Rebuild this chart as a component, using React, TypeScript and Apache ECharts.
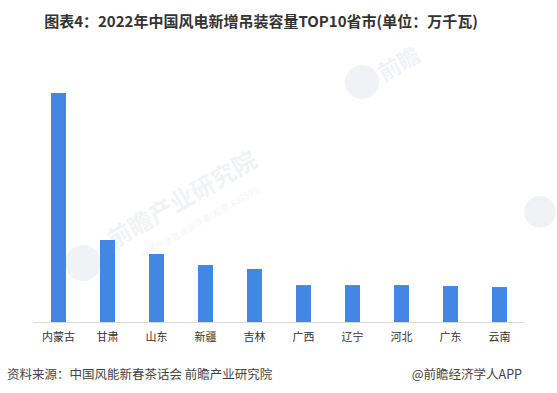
import React, { useEffect, useRef } from "react";
import * as echarts from "echarts";

const categories = ["内蒙古", "甘肃", "山东", "新疆", "吉林", "广西", "辽宁", "河北", "广东", "云南"];
const values = [1166, 418, 346, 290, 270, 188, 188, 188, 183, 178];
const titleText = "图表4：2022年中国风电新增吊装容量TOP10省市(单位：万千瓦)";
const sourceText = "资料来源：中国风能新春茶话会 前瞻产业研究院";
const brandText = "@前瞻经济学人APP";

const FONT = '"Noto Sans CJK SC", "Microsoft YaHei", sans-serif';
const WM = "rgba(190,198,212,0.22)";

export default function App() {
  const ref = useRef<HTMLDivElement>(null);
  useEffect(() => {
    if (!ref.current) return;
    const chart = echarts.init(ref.current, null, { renderer: "svg" });
    chart.setOption({
      animation: false,
      backgroundColor: "#ffffff",
      grid: { left: 34, right: 33, top: 47, bottom: 71, containLabel: false },
      xAxis: {
        type: "category",
        data: categories,
        axisLine: { lineStyle: { color: "#d9d9d9", width: 1 } },
        axisTick: { show: false },
        axisLabel: { color: "#333333", fontSize: 11, fontFamily: FONT, margin: 8 },
      },
      yAxis: {
        type: "value",
        min: 0,
        max: 1400,
        show: false,
        splitLine: { show: false },
      },
      series: [
        {
          type: "bar",
          data: values,
          barWidth: 15,
          itemStyle: { color: "#4287e4" },
          z: 3,
        },
      ],
      graphic: [
        // watermarks
        { type: "circle", shape: { cx: 83, cy: 263, r: 18 }, style: { fill: WM }, z: 0, silent: true },
        {
          type: "text", x: 181, y: 198, rotation: Math.PI / 6, z: 0, silent: true,
          style: { text: "前瞻产业研究院", fontSize: 24, fontWeight: "bold", fill: WM, fontFamily: FONT, align: "center", verticalAlign: "middle" },
        },
        {
          type: "text", x: 200, y: 222, rotation: Math.PI / 6, z: 0, silent: true,
          style: { text: "中国产业咨询领导者(股票:833599)", fontSize: 9, fill: WM, fontFamily: FONT, align: "center", verticalAlign: "middle" },
        },
        { type: "circle", shape: { cx: 362, cy: 82, r: 17 }, style: { fill: WM }, z: 0, silent: true },
        {
          type: "text", x: 398, y: 62, rotation: Math.PI / 6, z: 0, silent: true,
          style: { text: "前瞻", fontSize: 22, fontWeight: "bold", fill: WM, fontFamily: FONT, align: "center", verticalAlign: "middle" },
        },
        { type: "circle", shape: { cx: 540, cy: 212, r: 16 }, style: { fill: WM }, z: 0, silent: true },
        // title
        {
          type: "text", x: 261, y: 20, z: 10,
          style: { text: titleText, fontSize: 15, fontWeight: "bold", fill: "#333333", fontFamily: FONT, align: "center", verticalAlign: "middle" },
        },
        // footer
        {
          type: "text", x: 7, y: 373, z: 10,
          style: { text: sourceText, fontSize: 12.5, fill: "#444444", fontFamily: FONT, align: "left", verticalAlign: "middle" },
        },
        {
          type: "text", x: 522, y: 373, z: 10,
          style: { text: brandText, fontSize: 12.5, fill: "#444444", fontFamily: FONT, align: "right", verticalAlign: "middle" },
        },
      ],
    });
    return () => chart.dispose();
  }, []);
  return <div ref={ref} style={{ width: 557, height: 393, position: "absolute", left: 0, top: 0 }} />;
}
